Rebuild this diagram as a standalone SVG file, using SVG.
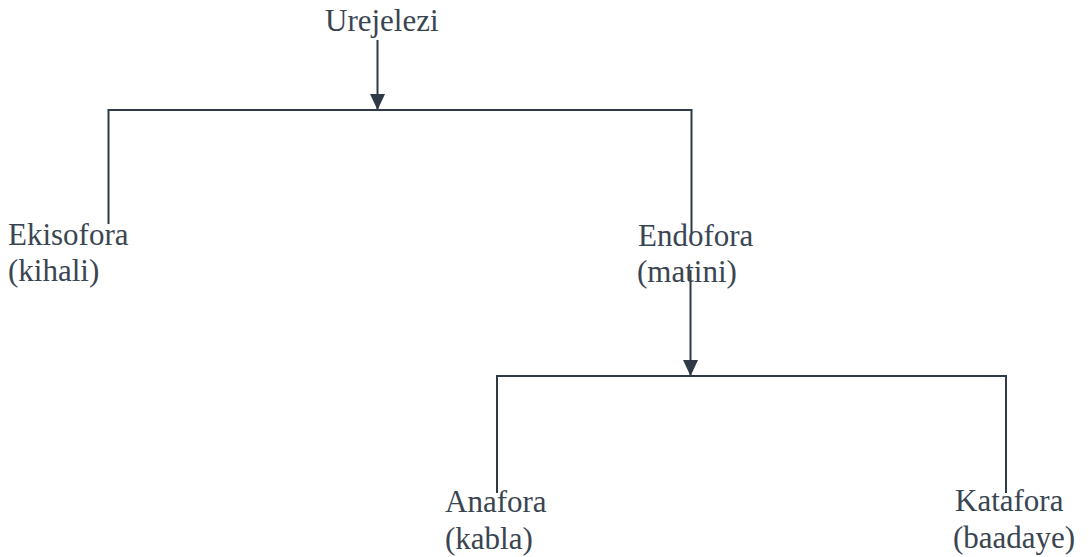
<svg xmlns="http://www.w3.org/2000/svg" width="1089" height="557" viewBox="0 0 1089 557">
<style>
text{font-family:'Liberation Serif','DejaVu Serif',serif;font-size:31px;fill:#3a4552}
.ln{stroke:#2f3a46;stroke-width:2;fill:none}
</style>
<defs>
<marker id="ah" viewBox="0 0 16 15" refX="16" refY="7.5" markerWidth="16" markerHeight="15" markerUnits="userSpaceOnUse" orient="auto">
<path d="M0,0 L16,7.5 L0,15 Z" fill="#2f3a46"/>
</marker>
</defs>
<rect width="1089" height="557" fill="#fff"/>
<g id="connectors">
<line class="ln" x1="377.5" y1="40" x2="377.5" y2="110" marker-end="url(#ah)"/>
<polyline class="ln" points="108.5,224 108.5,110 691.5,110 691.5,234"/>
<line class="ln" x1="690.5" y1="270" x2="690.5" y2="376" marker-end="url(#ah)"/>
<polyline class="ln" points="497,493 497,376 1006,376 1006,493"/>
</g>
<g id="urejelezi"><text x="325" y="31">Urejelezi</text></g>
<g id="ekisofora"><text x="8" y="245">Ekisofora</text><text x="8" y="281">(kihali)</text></g>
<g id="endofora"><text x="638" y="246">Endofora</text><text x="637" y="282">(matini)</text></g>
<g id="anafora"><text x="445" y="512">Anafora</text><text x="445" y="549">(kabla)</text></g>
<g id="katafora"><text x="955" y="511">Katafora</text><text x="953" y="548">(baadaye)</text></g>
</svg>
